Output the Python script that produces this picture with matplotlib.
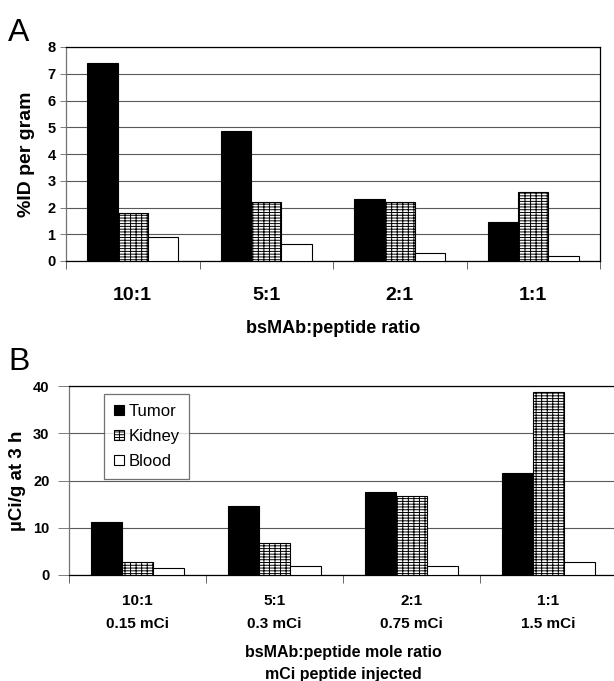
import numpy as np
import matplotlib
matplotlib.use('Agg')
import matplotlib.pyplot as plt
from matplotlib.ticker import FixedLocator

plt.rcParams['font.family'] = ['Liberation Sans', 'DejaVu Sans']
plt.rcParams['hatch.linewidth'] = 0.7

# panel A data (%ID per gram)
ratios_a = ['10:1', '5:1', '2:1', '1:1']
tumor_a = [7.4, 4.85, 2.33, 1.45]
kidney_a = [1.8, 2.22, 2.22, 2.58]
blood_a = [0.88, 0.63, 0.31, 0.2]

# panel B data (uCi/g at 3 h)
ratios_b = ['10:1\n0.15 mCi', '5:1\n0.3 mCi', '2:1\n0.75 mCi', '1:1\n1.5 mCi']
tumor_b = [11.2, 14.7, 17.6, 21.5]
kidney_b = [2.7, 6.8, 16.7, 38.8]
blood_b = [1.4, 1.9, 2.0, 2.7]

series = ['Tumor', 'Kidney', 'Blood']
w = 0.228

fig = plt.figure(figsize=(6.14, 6.81), dpi=100)
axA = fig.add_axes([66/614, 1-261/681, 534/614, 214/681])
axB = fig.add_axes([69/614, 1-575/681, 548/614, 189/681])

def draw(ax, t, k, b):
    x = np.arange(len(t))
    ax.bar(x-w, t, w, color='black', edgecolor='black', lw=0.8, label=series[0], zorder=3)
    ax.bar(x, k, w, color='white', edgecolor='black', lw=0.8, hatch='------|||', label=series[1], zorder=3)
    ax.bar(x+w, b, w, color='white', edgecolor='black', lw=0.8, label=series[2], zorder=3)
    ax.set_xlim(-0.5, len(t)-0.5)
    ax.set_xticks(x)
    ax.xaxis.set_minor_locator(FixedLocator(np.arange(-0.5, len(t), 1)))
    ax.tick_params(axis='x', which='major', length=0)
    ax.tick_params(axis='x', which='minor', length=6, direction='out', width=0.6, color='0.3')
    ax.tick_params(axis='y', length=4, width=0.6, color='0.4')
    ax.yaxis.grid(True, color='0.35', lw=0.8)
    ax.set_axisbelow(True)
    for s in ax.spines.values():
        s.set_linewidth(0.9)
    ax.spines['left'].set_color('0.45')

# panel A
draw(axA, tumor_a, kidney_a, blood_a)
axA.set_ylim(0, 8)
axA.set_yticks(range(0, 9))
axA.set_xticklabels(ratios_a, fontsize=14, fontweight='bold')
axA.tick_params(axis='x', which='major', pad=19)
for lab in axA.get_yticklabels():
    lab.set_fontweight('bold'); lab.set_fontsize(10.5)
axA.set_xlabel('bsMAb:peptide ratio', fontsize=13, fontweight='bold', labelpad=11)
axA.set_ylabel('%ID per gram', fontsize=14, fontweight='bold', labelpad=9)
fig.text(8/614, 1-33/681, 'A', fontsize=23, va='center', ha='left')

# panel B
draw(axB, tumor_b, kidney_b, blood_b)
axB.set_ylim(0, 40)
axB.set_yticks(range(0, 41, 10))
axB.set_xticklabels(ratios_b, fontsize=11, fontweight='bold', linespacing=1.75)
axB.tick_params(axis='x', which='major', pad=14)
axB.tick_params(axis='y', length=8, pad=6)
for lab in axB.get_yticklabels():
    lab.set_fontweight('bold'); lab.set_fontsize(10.5)
axB.set_xlabel('bsMAb:peptide mole ratio\nmCi peptide injected', fontsize=11.5,
               fontweight='bold', linespacing=1.6, labelpad=10)
axB.set_ylabel('µCi/g at 3 h', fontsize=13.5, fontweight='bold', labelpad=5)
axB.spines['right'].set_visible(False)
fig.text(8/614, 1-362/681, 'B', fontsize=23, va='center', ha='left')

leg = axB.legend(loc='upper left', bbox_to_anchor=(0.064, 0.958), borderaxespad=0,
                 fontsize=12, frameon=True, fancybox=False, edgecolor='0.3',
                 handlelength=0.6, handleheight=0.6, handletextpad=0.25,
                 labelspacing=0.6, borderpad=0.6)
leg.get_frame().set_linewidth(0.9)

fig.savefig('out.png', dpi=100)
